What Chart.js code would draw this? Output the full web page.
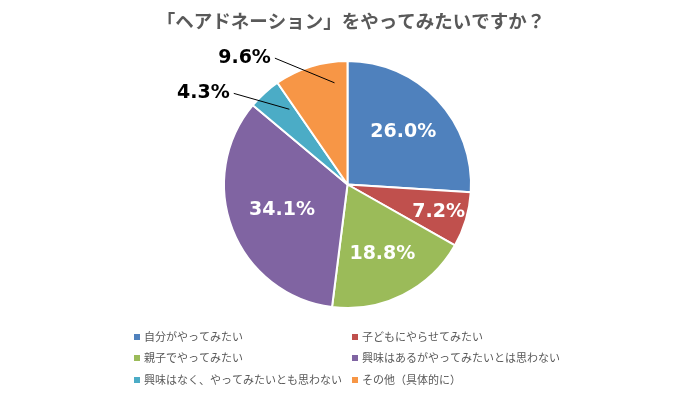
<!DOCTYPE html>
<html>
<head>
<meta charset="utf-8">
<script src="https://cdn.jsdelivr.net/npm/chart.js@4"></script>
<style>
  html, body { margin: 0; padding: 0; background: #fff; }
  #wrap { width: 695px; height: 396px; }
</style>
</head>
<body>
<div id="wrap"><canvas id="pie" width="695" height="396"></canvas></div>
<script>
    var titleText = "「ヘアドネーション」をやってみたいですか？";
    var labels = [
        "自分がやってみたい",
        "子どもにやらせてみたい",
        "親子でやってみたい",
        "興味はあるがやってみたいとは思わない",
        "興味はなく、やってみたいとも思わない",
        "その他（具体的に）"
    ];
    var values = [26.0, 7.2, 18.8, 34.1, 4.3, 9.6];
    var colors = ["#4F81BD", "#C0504D", "#9BBB59", "#8064A2", "#4BACC6", "#F79646"];

    var fontJP = "'Noto Sans CJK JP', 'Noto Sans', sans-serif";
    var fontNum = "Verdana, 'DejaVu Sans', sans-serif";

    // label placement per slice (inside at radius factor, or outside with a leader line)
    var labelPlace = [
        {r: 0.62},
        {r: 0.77},
        {r: 0.63},
        {r: 0.57},
        {out: true, inR: 0.77, inDa: 4.6, outR: 1.18, outDa: -9},
        {out: true, inR: 0.83, inDa: 10, outR: 1.18, outDa: -12.6}
    ];

    var pieExtras = {
        id: "pieExtras",
        afterDraw: function(chart){
            var ctx = chart.ctx;
            var meta = chart.getDatasetMeta(0);
            // title
            ctx.save();
            ctx.fillStyle = "#595959";
            ctx.font = "bold 18.5px " + fontJP;
            ctx.textAlign = "center";
            ctx.textBaseline = "middle";
            ctx.fillText(titleText, 351, 21);
            ctx.restore();

            // value labels
            for(var i = 0; i < meta.data.length; i++){
                var arc = meta.data[i].getProps(["x", "y", "startAngle", "endAngle", "outerRadius"], true);
                var mid = (arc.startAngle + arc.endAngle) / 2;
                var R = arc.outerRadius;
                var p = labelPlace[i];
                var txt = values[i].toFixed(1) + "%";
                ctx.save();
                ctx.font = "bold 19px " + fontNum;
                ctx.textBaseline = "middle";
                if(!p.out){
                    ctx.fillStyle = "#ffffff";
                    ctx.textAlign = "center";
                    ctx.fillText(txt, arc.x + Math.cos(mid) * R * p.r, arc.y + Math.sin(mid) * R * p.r);
                } else {
                    var a1 = mid + p.inDa * Math.PI / 180;
                    var a2 = mid + p.outDa * Math.PI / 180;
                    var x1 = arc.x + Math.cos(a1) * R * p.inR, y1 = arc.y + Math.sin(a1) * R * p.inR;
                    var x2 = arc.x + Math.cos(a2) * R * p.outR, y2 = arc.y + Math.sin(a2) * R * p.outR;
                    ctx.strokeStyle = "#000000";
                    ctx.lineWidth = 1;
                    ctx.beginPath();
                    ctx.moveTo(x1, y1);
                    ctx.lineTo(x2, y2);
                    ctx.stroke();
                    ctx.fillStyle = "#000000";
                    ctx.textAlign = "right";
                    ctx.fillText(txt, x2 - 4, y2);
                }
                ctx.restore();
            }

            // legend, two columns
            ctx.save();
            ctx.font = "11px " + fontJP;
            ctx.textBaseline = "middle";
            ctx.textAlign = "left";
            var colX = [134, 352];
            var rowY = [337, 358, 380];
            for(var j = 0; j < labels.length; j++){
                var lx = colX[j % 2], ly = rowY[Math.floor(j / 2)];
                ctx.fillStyle = colors[j];
                ctx.fillRect(lx, ly - 3, 6, 6);
                ctx.fillStyle = "#595959";
                ctx.fillText(labels[j], lx + 10, ly);
            }
            ctx.restore();
        }
    };

    var chart = new Chart(document.getElementById("pie"), {
        type: "pie",
        data: {
            labels: labels,
            datasets: [{
                data: values,
                backgroundColor: colors,
                borderColor: "#ffffff",
                borderWidth: 2
            }]
        },
        options: {
            responsive: false,
            animation: false,
            layout: {
                padding: {top: 60, bottom: 87, left: 0, right: 0}
            },
            plugins: {
                legend: {display: false},
                title: {display: false},
                tooltip: {enabled: false}
            }
        },
        plugins: [pieExtras]
    });
</script>
</body>
</html>
